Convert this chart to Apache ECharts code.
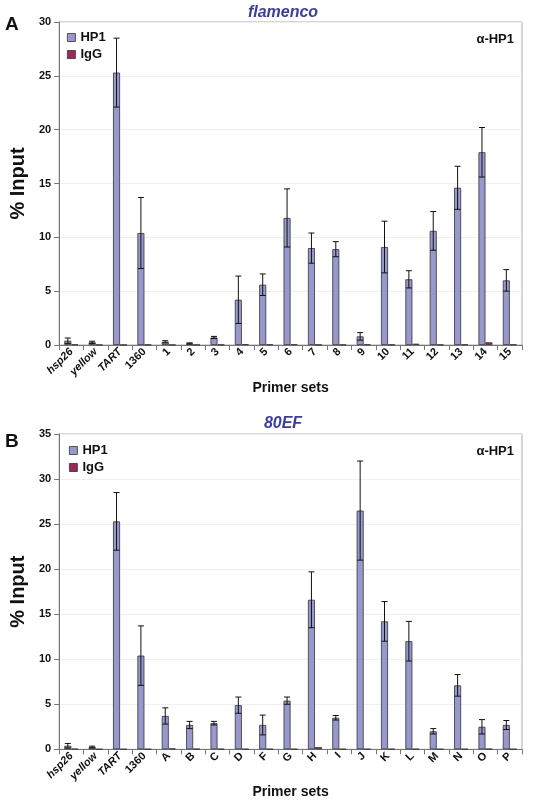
<!DOCTYPE html>
<html>
<head>
<meta charset="utf-8">
<script src="https://cdn.jsdelivr.net/npm/echarts@6/dist/echarts.min.js"></script>
<style>
  html, body { margin: 0; padding: 0; background: #fff; }
  #main { width: 533px; height: 800px; }
</style>
</head>
<body>
<div id="main"></div>
<script>
var catsA = ['hsp26', 'yellow', 'TART', '1360', '1', '2', '3', '4', '5', '6', '7', '8', '9', '10', '11', '12', '13', '14', '15'];
var hp1A = [0.4, 0.25, 25.3, 10.4, 0.3, 0.15, 0.7, 4.2, 5.6, 11.8, 9.0, 8.9, 0.8, 9.1, 6.1, 10.6, 14.6, 17.9, 6.0];
var hp1ErrA = [0.25, 0.1, 3.2, 3.3, 0.1, 0.05, 0.1, 2.2, 1.0, 2.7, 1.4, 0.7, 0.35, 2.4, 0.8, 1.8, 2.0, 2.3, 1.0];
var iggA = [0.05, 0.02, 0.02, 0.03, 0.02, 0.02, 0.03, 0.08, 0.05, 0.05, 0.03, 0.03, 0.05, 0.03, 0.12, 0.03, 0.05, 0.25, 0.05];

var catsB = ['hsp26', 'yellow', 'TART', '1360', 'A', 'B', 'C', 'D', 'F', 'G', 'H', 'I', 'J', 'K', 'L', 'M', 'N', 'O', 'P'];
var hp1B = [0.4, 0.25, 25.3, 10.4, 3.7, 2.7, 2.9, 4.9, 2.7, 5.4, 16.6, 3.5, 26.5, 14.2, 12.0, 2.0, 7.1, 2.5, 2.7];
var hp1ErrB = [0.25, 0.1, 3.2, 3.3, 0.9, 0.4, 0.2, 0.9, 1.1, 0.4, 3.1, 0.25, 5.5, 2.2, 2.2, 0.3, 1.2, 0.8, 0.5];
var iggB = [0.05, 0.02, 0.02, 0.03, 0.1, 0.05, 0.05, 0.03, 0.03, 0.03, 0.25, 0.03, 0.03, 0.03, 0.03, 0.02, 0.03, 0.05, 0.03];

var italicCats = ['hsp26', 'yellow', 'TART'];
var hp1Color = '#9898cc';
var iggColor = '#9a2a5c';
var barW = 7;

var myChart = echarts.init(document.getElementById('main'));

function errSeries(idx, vals, errs) {
    return {
        type: 'custom',
        xAxisIndex: idx,
        yAxisIndex: idx,
        z: 10,
        data: vals.map(function (v, i) { return [i, v - errs[i], v + errs[i]]; }),
        renderItem: function (params, api) {
            var lo = api.coord([api.value(0), api.value(1)]);
            var hi = api.coord([api.value(0), api.value(2)]);
            var x = lo[0] - barW / 2;
            var style = { stroke: '#111', lineWidth: 1 };
            return {
                type: 'group',
                children: [
                    { type: 'line', shape: { x1: x, y1: lo[1], x2: x, y2: hi[1] }, style: style },
                    { type: 'line', shape: { x1: x - 3, y1: hi[1], x2: x + 3, y2: hi[1] }, style: style },
                    { type: 'line', shape: { x1: x - 3, y1: lo[1], x2: x + 3, y2: lo[1] }, style: style }
                ]
            };
        }
    };
}

function xAxisFor(idx, cats) {
    return {
        type: 'category',
        gridIndex: idx,
        data: cats,
        name: 'Primer sets',
        nameLocation: 'middle',
        nameGap: 26,
        nameTextStyle: { fontWeight: 'bold', fontSize: 14, color: '#111' },
        axisLine: { lineStyle: { color: '#777' } },
        axisTick: { show: true, interval: 0, lineStyle: { color: '#777' } },
        axisLabel: {
            interval: 0, rotate: 45, fontWeight: 'bold', fontSize: 11, color: '#111', margin: 5,
            formatter: function (v) {
                return italicCats.indexOf(v) >= 0 ? '{it|' + v + '}' : v;
            },
            rich: { it: { fontStyle: 'italic', fontWeight: 'bold', fontSize: 11, color: '#111' } }
        }
    };
}

function yAxisFor(idx, max) {
    return {
        type: 'value',
        gridIndex: idx,
        min: 0, max: max, interval: 5,
        name: '% Input',
        nameLocation: 'middle',
        nameGap: 25,
        nameTextStyle: { fontWeight: 'bold', fontSize: 20, color: '#111' },
        axisLine: { show: true, lineStyle: { color: '#777' } },
        axisTick: { show: true, lineStyle: { color: '#777' } },
        axisLabel: { fontWeight: 'bold', fontSize: 11, color: '#111' },
        splitLine: { lineStyle: { color: '#f0f0f0' } }
    };
}

function barSeries(idx, name, vals, color) {
    return {
        name: name,
        type: 'bar',
        xAxisIndex: idx,
        yAxisIndex: idx,
        data: vals,
        barWidth: barW,
        barGap: '0%',
        itemStyle: { color: color, borderColor: '#333', borderWidth: 0.8 }
    };
}

var legendStyle = {
    orient: 'vertical', itemWidth: 8, itemHeight: 8, itemGap: 4, icon: 'rect',
    textStyle: { fontWeight: 'bold', fontSize: 13, color: '#111' },
    itemStyle: { borderColor: '#333', borderWidth: 0.8 }
};

var option = {
    animation: false,
    grid: [
        { left: 58, right: 11, top: 22, height: 323, show: true, borderColor: '#aaa', borderWidth: 1 },
        { left: 58, right: 11, top: 434, height: 323, show: true, borderColor: '#aaa', borderWidth: 1 }
    ],
    title: [
        { text: 'flamenco', left: 278, top: 0, textAlign: 'center',
          textStyle: { color: '#3d3d9c', fontStyle: 'italic', fontWeight: 'bold', fontSize: 16 } },
        { text: '80EF', left: 278, top: 411, textAlign: 'center',
          textStyle: { color: '#3d3d9c', fontStyle: 'italic', fontWeight: 'bold', fontSize: 16 } },
        { text: 'A', left: 0, top: 10, textStyle: { fontWeight: 'bold', fontSize: 19, color: '#111' } },
        { text: 'B', left: 0, top: 427, textStyle: { fontWeight: 'bold', fontSize: 19, color: '#111' } },
        { text: 'α-HP1', right: 14, top: 28, textStyle: { fontWeight: 'bold', fontSize: 13, color: '#111' } },
        { text: 'α-HP1', right: 14, top: 440, textStyle: { fontWeight: 'bold', fontSize: 13, color: '#111' } }
    ],
    legend: [
        Object.assign({ left: 62, top: 26, data: ['HP1', 'IgG'] }, legendStyle),
        Object.assign({ left: 64, top: 439, data: ['HP1', 'IgG'] }, legendStyle)
    ],
    xAxis: [xAxisFor(0, catsA), xAxisFor(1, catsB)],
    yAxis: [yAxisFor(0, 30), yAxisFor(1, 35)],
    series: [
        barSeries(0, 'HP1', hp1A, hp1Color),
        barSeries(0, 'IgG', iggA, iggColor),
        errSeries(0, hp1A, hp1ErrA),
        barSeries(1, 'HP1', hp1B, hp1Color),
        barSeries(1, 'IgG', iggB, iggColor),
        errSeries(1, hp1B, hp1ErrB)
    ]
};

myChart.setOption(option);
</script>
</body>
</html>
